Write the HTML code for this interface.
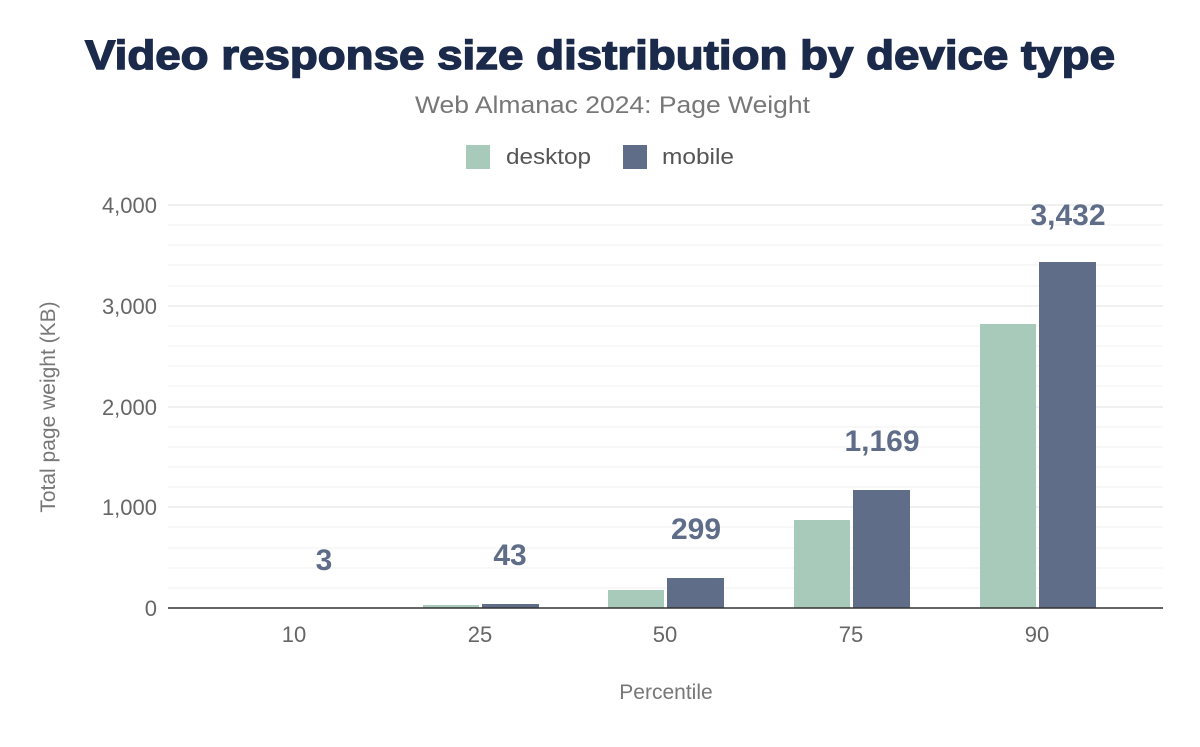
<!DOCTYPE html>
<html><head><meta charset="utf-8"><style>
body{margin:0;background:#fff;}
</style></head><body>
<svg width="1200" height="742" xmlns="http://www.w3.org/2000/svg" font-family="Liberation Sans, sans-serif">
<rect width="1200" height="742" fill="#fff"/>
<text x="85" y="69" textLength="1030" lengthAdjust="spacingAndGlyphs" font-size="41" font-weight="900" fill="#1b2a4a" stroke="#1b2a4a" stroke-width="1.4">Video response size distribution by device type</text>
<text x="415" y="113" textLength="395" lengthAdjust="spacingAndGlyphs" font-size="24" fill="#777">Web Almanac 2024: Page Weight</text>
<rect x="466" y="145" width="24" height="24" fill="#a8cabb"/>
<text x="506" y="164" textLength="85" lengthAdjust="spacingAndGlyphs" font-size="22" fill="#555">desktop</text>
<rect x="623" y="145" width="24" height="24" fill="#5f6d88"/>
<text x="662" y="164" textLength="72" lengthAdjust="spacingAndGlyphs" font-size="22" fill="#555">mobile</text>
<g stroke="#f0f0f0" stroke-width="1">
<line x1="168" x2="1163" y1="225" y2="225"/><line x1="168" x2="1163" y1="245" y2="245"/><line x1="168" x2="1163" y1="265" y2="265"/><line x1="168" x2="1163" y1="286" y2="286"/>
<line x1="168" x2="1163" y1="326" y2="326"/><line x1="168" x2="1163" y1="346" y2="346"/><line x1="168" x2="1163" y1="366" y2="366"/><line x1="168" x2="1163" y1="386" y2="386"/>
<line x1="168" x2="1163" y1="427" y2="427"/><line x1="168" x2="1163" y1="447" y2="447"/><line x1="168" x2="1163" y1="467" y2="467"/><line x1="168" x2="1163" y1="487" y2="487"/>
<line x1="168" x2="1163" y1="527" y2="527"/><line x1="168" x2="1163" y1="548" y2="548"/><line x1="168" x2="1163" y1="568" y2="568"/><line x1="168" x2="1163" y1="588" y2="588"/>
</g>
<g stroke="#e2e2e2" stroke-width="1">
<line x1="168" x2="1163" y1="205" y2="205"/><line x1="168" x2="1163" y1="306" y2="306"/><line x1="168" x2="1163" y1="407" y2="407"/><line x1="168" x2="1163" y1="507" y2="507"/>
</g>
<g font-size="22" fill="#666" text-anchor="end">
<text x="157" y="213">4,000</text><text x="157" y="314">3,000</text><text x="157" y="415">2,000</text><text x="157" y="515">1,000</text><text x="157" y="616">0</text>
</g>
<text transform="translate(55,407) rotate(-90)" text-anchor="middle" font-size="21" fill="#777">Total page weight (KB)</text>
<g fill="#a8cabb">
<rect x="423" y="605" width="56" height="3"/>
<rect x="608" y="590" width="56" height="18"/>
<rect x="794" y="520" width="56" height="88"/>
<rect x="980" y="324" width="56" height="284"/>
</g>
<g fill="#5f6d88">
<rect x="482" y="604" width="57" height="4"/>
<rect x="667" y="578" width="57" height="30"/>
<rect x="853" y="490" width="57" height="118"/>
<rect x="1039" y="262" width="57" height="346"/>
</g>
<line x1="168" x2="1163" y1="608" y2="608" stroke="#333" stroke-width="1.5"/>
<g font-size="22" fill="#666" text-anchor="middle">
<text x="294" y="642">10</text><text x="480" y="642">25</text><text x="665" y="642">50</text><text x="851" y="642">75</text><text x="1037" y="642">90</text>
</g>
<text x="666" y="699" text-anchor="middle" font-size="21" fill="#777">Percentile</text>
<g font-size="30" font-weight="bold" fill="#5f6d88" text-anchor="middle">
<text x="324" y="570">3</text><text x="510" y="565">43</text><text x="696" y="539">299</text><text x="882" y="451">1,169</text><text x="1068" y="225">3,432</text>
</g>
</svg>
</body></html>
